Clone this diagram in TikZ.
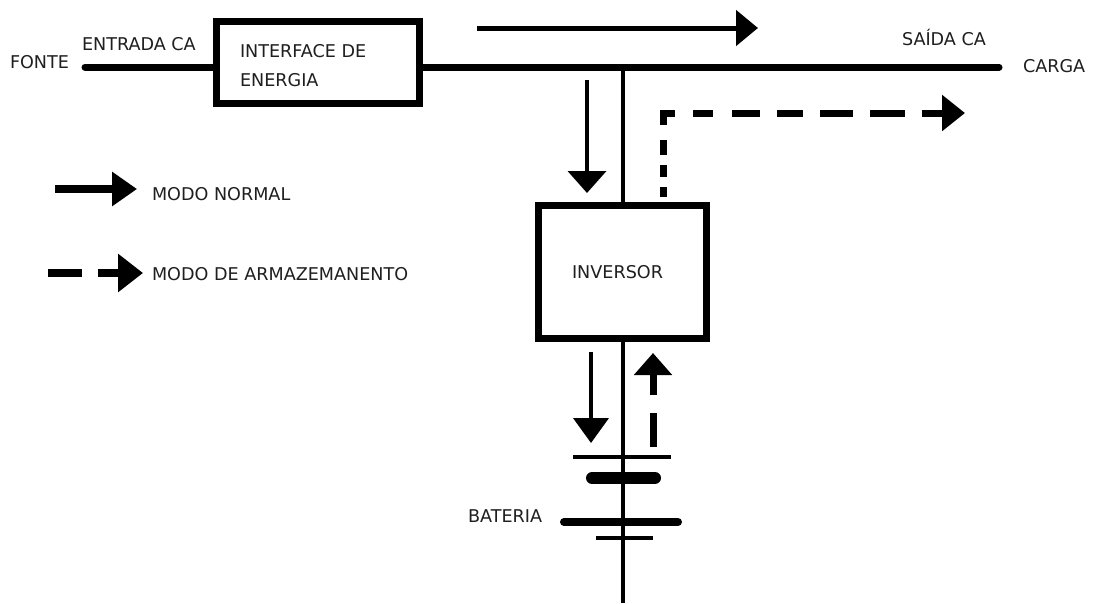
\documentclass[tikz,border=0pt]{standalone}
\usepackage{fontspec}
\setmainfont{DejaVu Sans}
\usetikzlibrary{arrows.meta}
\begin{document}
\begin{tikzpicture}[x=1pt,y=-1pt,
  txt/.style={anchor=base west, inner sep=0pt, outer sep=0pt, font=\fontsize{17.6}{20}\selectfont, text=black!88},
  blk/.style={draw, line width=7pt, inner sep=0pt, outer sep=0pt},
  bus/.style={line width=7pt, line cap=round},
  wire/.style={line width=4pt},
  plate/.style={line cap=round},
  head/.style={-{Triangle[length=#1pt,width=36pt]}},
]
\useasboundingbox[fill=white] (0,0) rectangle (1094,603);

% blocks
\node[blk, minimum width=203pt, minimum height=82pt] (iface) at (318,62.5) {};
\node[blk, minimum width=168pt, minimum height=133pt] (inv) at (622.5,272) {};

% texts
\node[txt] (fonte) at (10,68) {FONTE};
\node[txt] (entrada) at (82,50) {ENTRADA CA};
\node[txt] (iface1) at (240,57) {INTERFACE DE};
\node[txt] (iface2) at (240,86) {ENERGIA};
\node[txt] (saida) at (902,45) {SAÍDA CA};
\node[txt] (carga) at (1023,72) {CARGA};
\node[txt] (invt) at (572,278) {INVERSOR};
\node[txt] (bat) at (468,522) {BATERIA};
\node[txt] (leg1) at (152,200) {MODO NORMAL};
\node[txt] (leg2) at (152,280) {MODO DE ARMAZEMANENTO};

% bus
\coordinate (busL) at (85,67);
\coordinate (busR) at (999,67);
\coordinate (junc) at (623,67);
\draw[bus] (busL) -- (busL -| iface.west);
\draw[bus] (busR -| iface.east) -- (busR);
\draw[wire] (junc) -- (junc |- inv.north);

% battery
\coordinate (batbot) at (623,603);
\draw[wire] (junc |- inv.south) -- (batbot);
\coordinate (p1l) at (573,457); \coordinate (p1r) at (671,457);
\coordinate (p2l) at (592,478); \coordinate (p2r) at (655,478);
\coordinate (p3l) at (564,522); \coordinate (p3r) at (678,522);
\coordinate (p4l) at (596,538); \coordinate (p4r) at (653,538);
\draw[line width=4pt] (p1l) -- (p1r);
\draw[plate, line width=12pt] (p2l) -- (p2r);
\draw[plate, line width=8pt] (p3l) -- (p3r);
\draw[line width=4pt] (p4l) -- (p4r);

% normal-mode arrows
\coordinate (a1s) at (477,28); \coordinate (a1e) at (758,28);
\draw[line width=5pt, -{Triangle[length=22pt,width=35pt]}] (a1s) -- (a1e);
\coordinate (a2s) at (587,80); \coordinate (a2e) at (587,193);
\draw[wire, -{Triangle[length=22pt,width=38pt]}] (a2s) -- (a2e);
\coordinate (a3s) at (591,352); \coordinate (a3e) at (591,443);
\draw[wire, -{Triangle[length=25pt,width=35pt]}] (a3s) -- (a3e);

% storage-mode arrows
\coordinate (d1s) at (663,197); \coordinate (d1c) at (663,113); \coordinate (d1e) at (965,113);
\draw[line width=7pt, miter limit=4,
  dash pattern=on 10pt off 10pt on 12pt off 10pt on 15pt off 15pt on 24pt off 18pt on 20pt off 19pt on 28pt off 17pt on 26pt off 17pt on 33pt off 17pt on 35pt off 17pt on 60pt off 100pt,
  -{Triangle[length=23pt,width=35pt]}] (d1s) -- (d1c) -- (d1e);
\coordinate (d2s) at (653,447); \coordinate (d2e) at (653,353);
\draw[line width=7pt, dash pattern=on 34pt off 18pt on 60pt,
  -{Triangle[length=22pt,width=37pt]}] (d2s) -- (d2e);

% legend
\coordinate (l1s) at (55,189); \coordinate (l1e) at (137,189);
\draw[line width=8pt, -{Triangle[length=25pt,width=33pt]}] (l1s) -- (l1e);
\coordinate (l2s) at (48,273); \coordinate (l2e) at (143,273);
\draw[line width=8pt, dash pattern=on 34pt off 16pt on 60pt,
  -{Triangle[length=25pt,width=37pt]}] (l2s) -- (l2e);
\end{tikzpicture}
\end{document}
